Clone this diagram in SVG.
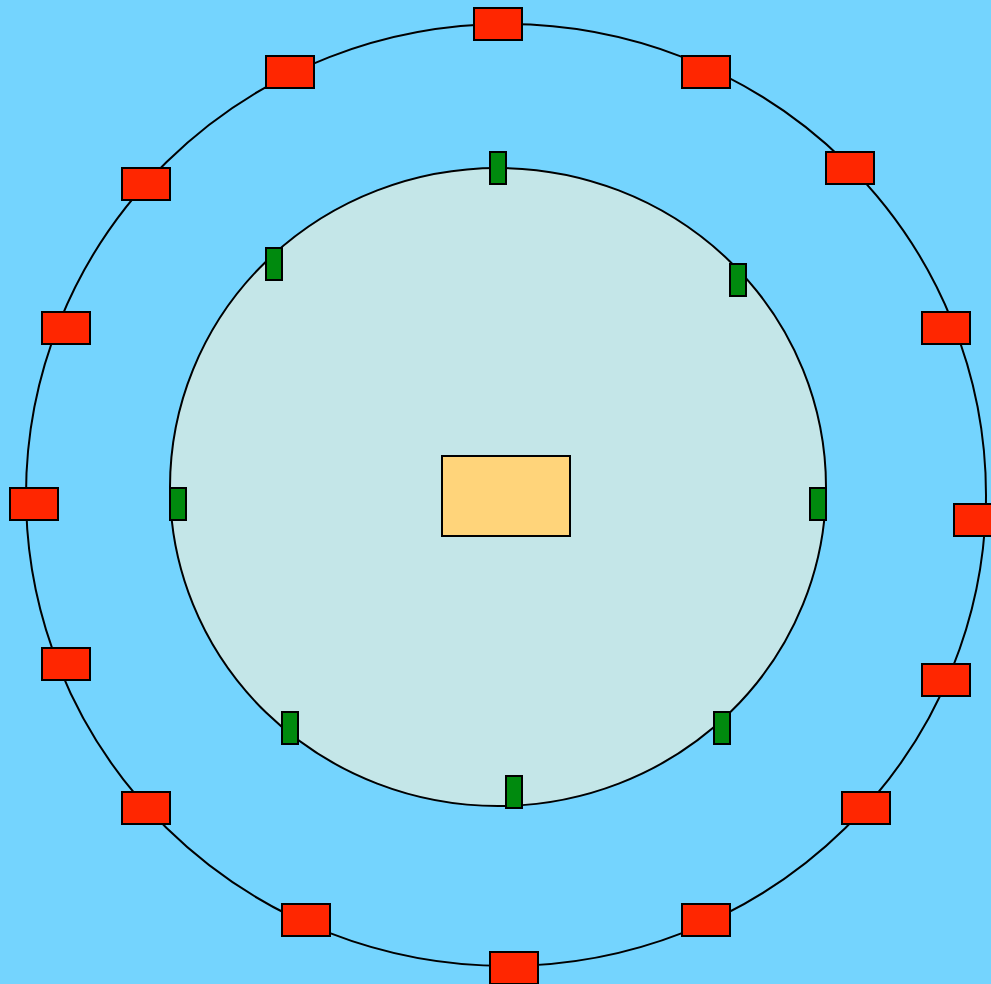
<svg xmlns="http://www.w3.org/2000/svg" width="991" height="984" viewBox="0 0 991 984">
<style>
.ring{fill:none;stroke:#000;stroke-width:2}
.inner{fill:#C4E6E8;stroke:#000;stroke-width:2}
.red{fill:#FF2600;stroke:#000;stroke-width:2}
.green{fill:#008A0E;stroke:#000;stroke-width:2}
.core{fill:#FFD47A;stroke:#000;stroke-width:2}
</style>
<rect x="0" y="0" width="991" height="984" fill="#74D4FE"/>
<g id="outer-ring"><ellipse class="ring" cx="506" cy="495" rx="480" ry="471"/></g>
<g id="inner-circle"><ellipse class="inner" cx="498" cy="487" rx="328" ry="319"/></g>
<g id="connectors"></g>
<g id="center"><rect class="core" x="442" y="456" width="128" height="80"/></g>
<g id="outer-nodes">
<g id="r1"><rect class="red" x="474" y="8" width="48" height="32"/></g>
<g id="r2"><rect class="red" x="682" y="56" width="48" height="32"/></g>
<g id="r3"><rect class="red" x="826" y="152" width="48" height="32"/></g>
<g id="r4"><rect class="red" x="922" y="312" width="48" height="32"/></g>
<g id="r5"><rect class="red" x="954" y="504" width="48" height="32"/></g>
<g id="r6"><rect class="red" x="922" y="664" width="48" height="32"/></g>
<g id="r7"><rect class="red" x="842" y="792" width="48" height="32"/></g>
<g id="r8"><rect class="red" x="682" y="904" width="48" height="32"/></g>
<g id="r9"><rect class="red" x="490" y="952" width="48" height="32"/></g>
<g id="r10"><rect class="red" x="282" y="904" width="48" height="32"/></g>
<g id="r11"><rect class="red" x="122" y="792" width="48" height="32"/></g>
<g id="r12"><rect class="red" x="42" y="648" width="48" height="32"/></g>
<g id="r13"><rect class="red" x="10" y="488" width="48" height="32"/></g>
<g id="r14"><rect class="red" x="42" y="312" width="48" height="32"/></g>
<g id="r15"><rect class="red" x="122" y="168" width="48" height="32"/></g>
<g id="r16"><rect class="red" x="266" y="56" width="48" height="32"/></g>
</g>
<g id="inner-nodes">
<g id="g1"><rect class="green" x="490" y="152" width="16" height="32"/></g>
<g id="g2"><rect class="green" x="730" y="264" width="16" height="32"/></g>
<g id="g3"><rect class="green" x="810" y="488" width="16" height="32"/></g>
<g id="g4"><rect class="green" x="714" y="712" width="16" height="32"/></g>
<g id="g5"><rect class="green" x="506" y="776" width="16" height="32"/></g>
<g id="g6"><rect class="green" x="282" y="712" width="16" height="32"/></g>
<g id="g7"><rect class="green" x="170" y="488" width="16" height="32"/></g>
<g id="g8"><rect class="green" x="266" y="248" width="16" height="32"/></g>
</g>
</svg>
